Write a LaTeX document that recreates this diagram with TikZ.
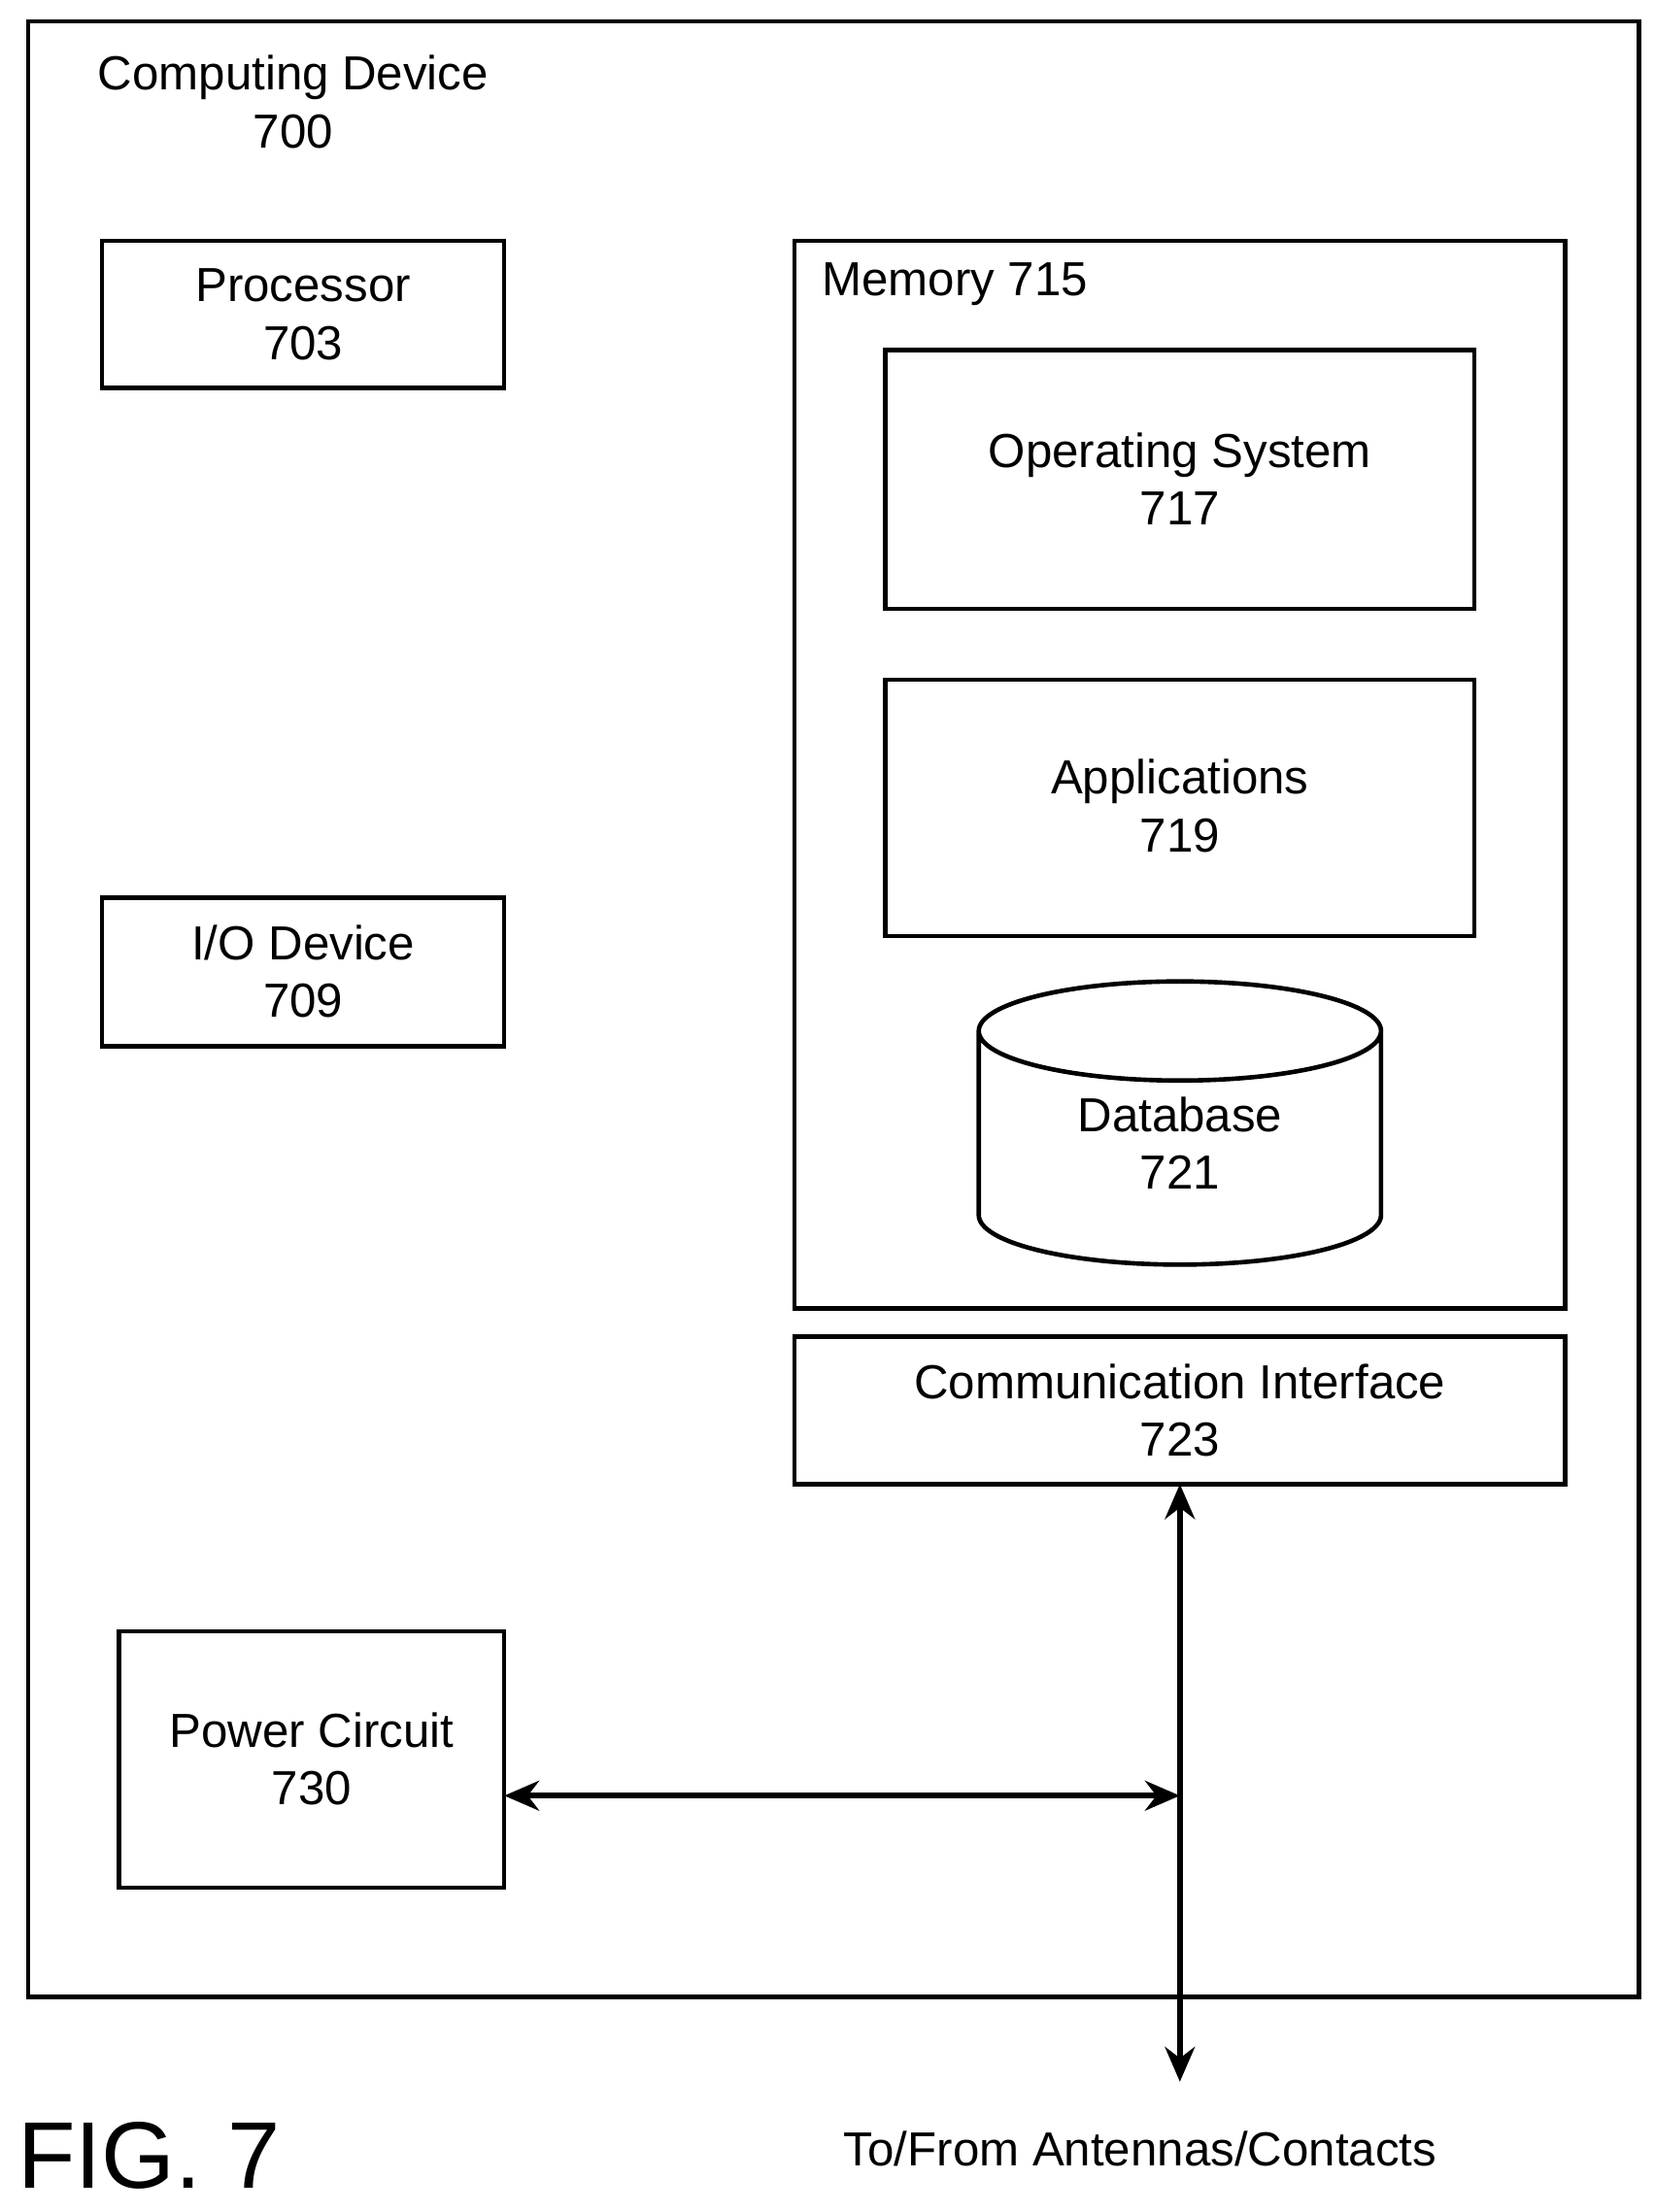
\documentclass[tikz,border=0pt]{standalone}
\usepackage{fontspec}
\setmainfont{Liberation Sans}
\usetikzlibrary{arrows.meta}
\begin{document}
\begin{tikzpicture}[x=0.01cm,y=-0.01cm,
  box/.style={draw,line width=0.9pt},
  lbl/.style={font=\fontsize{9.6}{11.6}\selectfont,align=center},
  arr/.style={line width=1.1pt,{Stealth[length=7pt,width=6pt]}-{Stealth[length=7pt,width=6pt]}}]
\useasboundingbox (0,0) rectangle (1168,1562);
\draw[box] (20,15) rectangle (1157,1410);
\node[lbl] (title) at (207,72) {Computing Device\\700};
\draw[box] (72,170) rectangle (356,274);
\node[lbl] (proc) at (214,222) {Processor\\703};
\draw[box] (72,634) rectangle (356,739);
\node[lbl] (io) at (214,686) {I/O Device\\709};
\draw[box] (84,1152) rectangle (356,1333);
\coordinate (pwrR) at (356,1268);
\node[lbl] (pwr) at (220,1242) {Power Circuit\\730};
\draw[box] (561,170) rectangle (1105,924);
\node[lbl,anchor=west] (mem) at (568,201) {Memory 715};
\draw[box] (625,247) rectangle (1041,430);
\node[lbl] (os) at (833,338) {Operating System\\717};
\draw[box] (625,480) rectangle (1041,661);
\node[lbl] (app) at (833,569) {Applications\\719};
\draw[box] (691,728) arc[start angle=180,end angle=-180,x radius=142,y radius=35]
  (691,728) -- (691,858) arc[start angle=180,end angle=0,x radius=142,y radius=35] -- (975,728);
\node[lbl] (db) at (833,807) {Database\\721};
\draw[box] (561,944) rectangle (1105,1048);
\node[lbl] (comm) at (833,996) {Communication Interface\\723};
\coordinate (commB) at (833,1048);
\coordinate (ant) at (833,1470);
\coordinate (junc) at (833,1268);
\draw[arr] (commB) -- (ant);
\draw[arr] (pwrR) -- (junc);
\node[lbl] (antl) at (805,1517) {To/From Antennas/Contacts};
\node[font=\fontsize{19}{22}\selectfont,anchor=west] (fig) at (0,1522) {FIG. 7};
\end{tikzpicture}
\end{document}
